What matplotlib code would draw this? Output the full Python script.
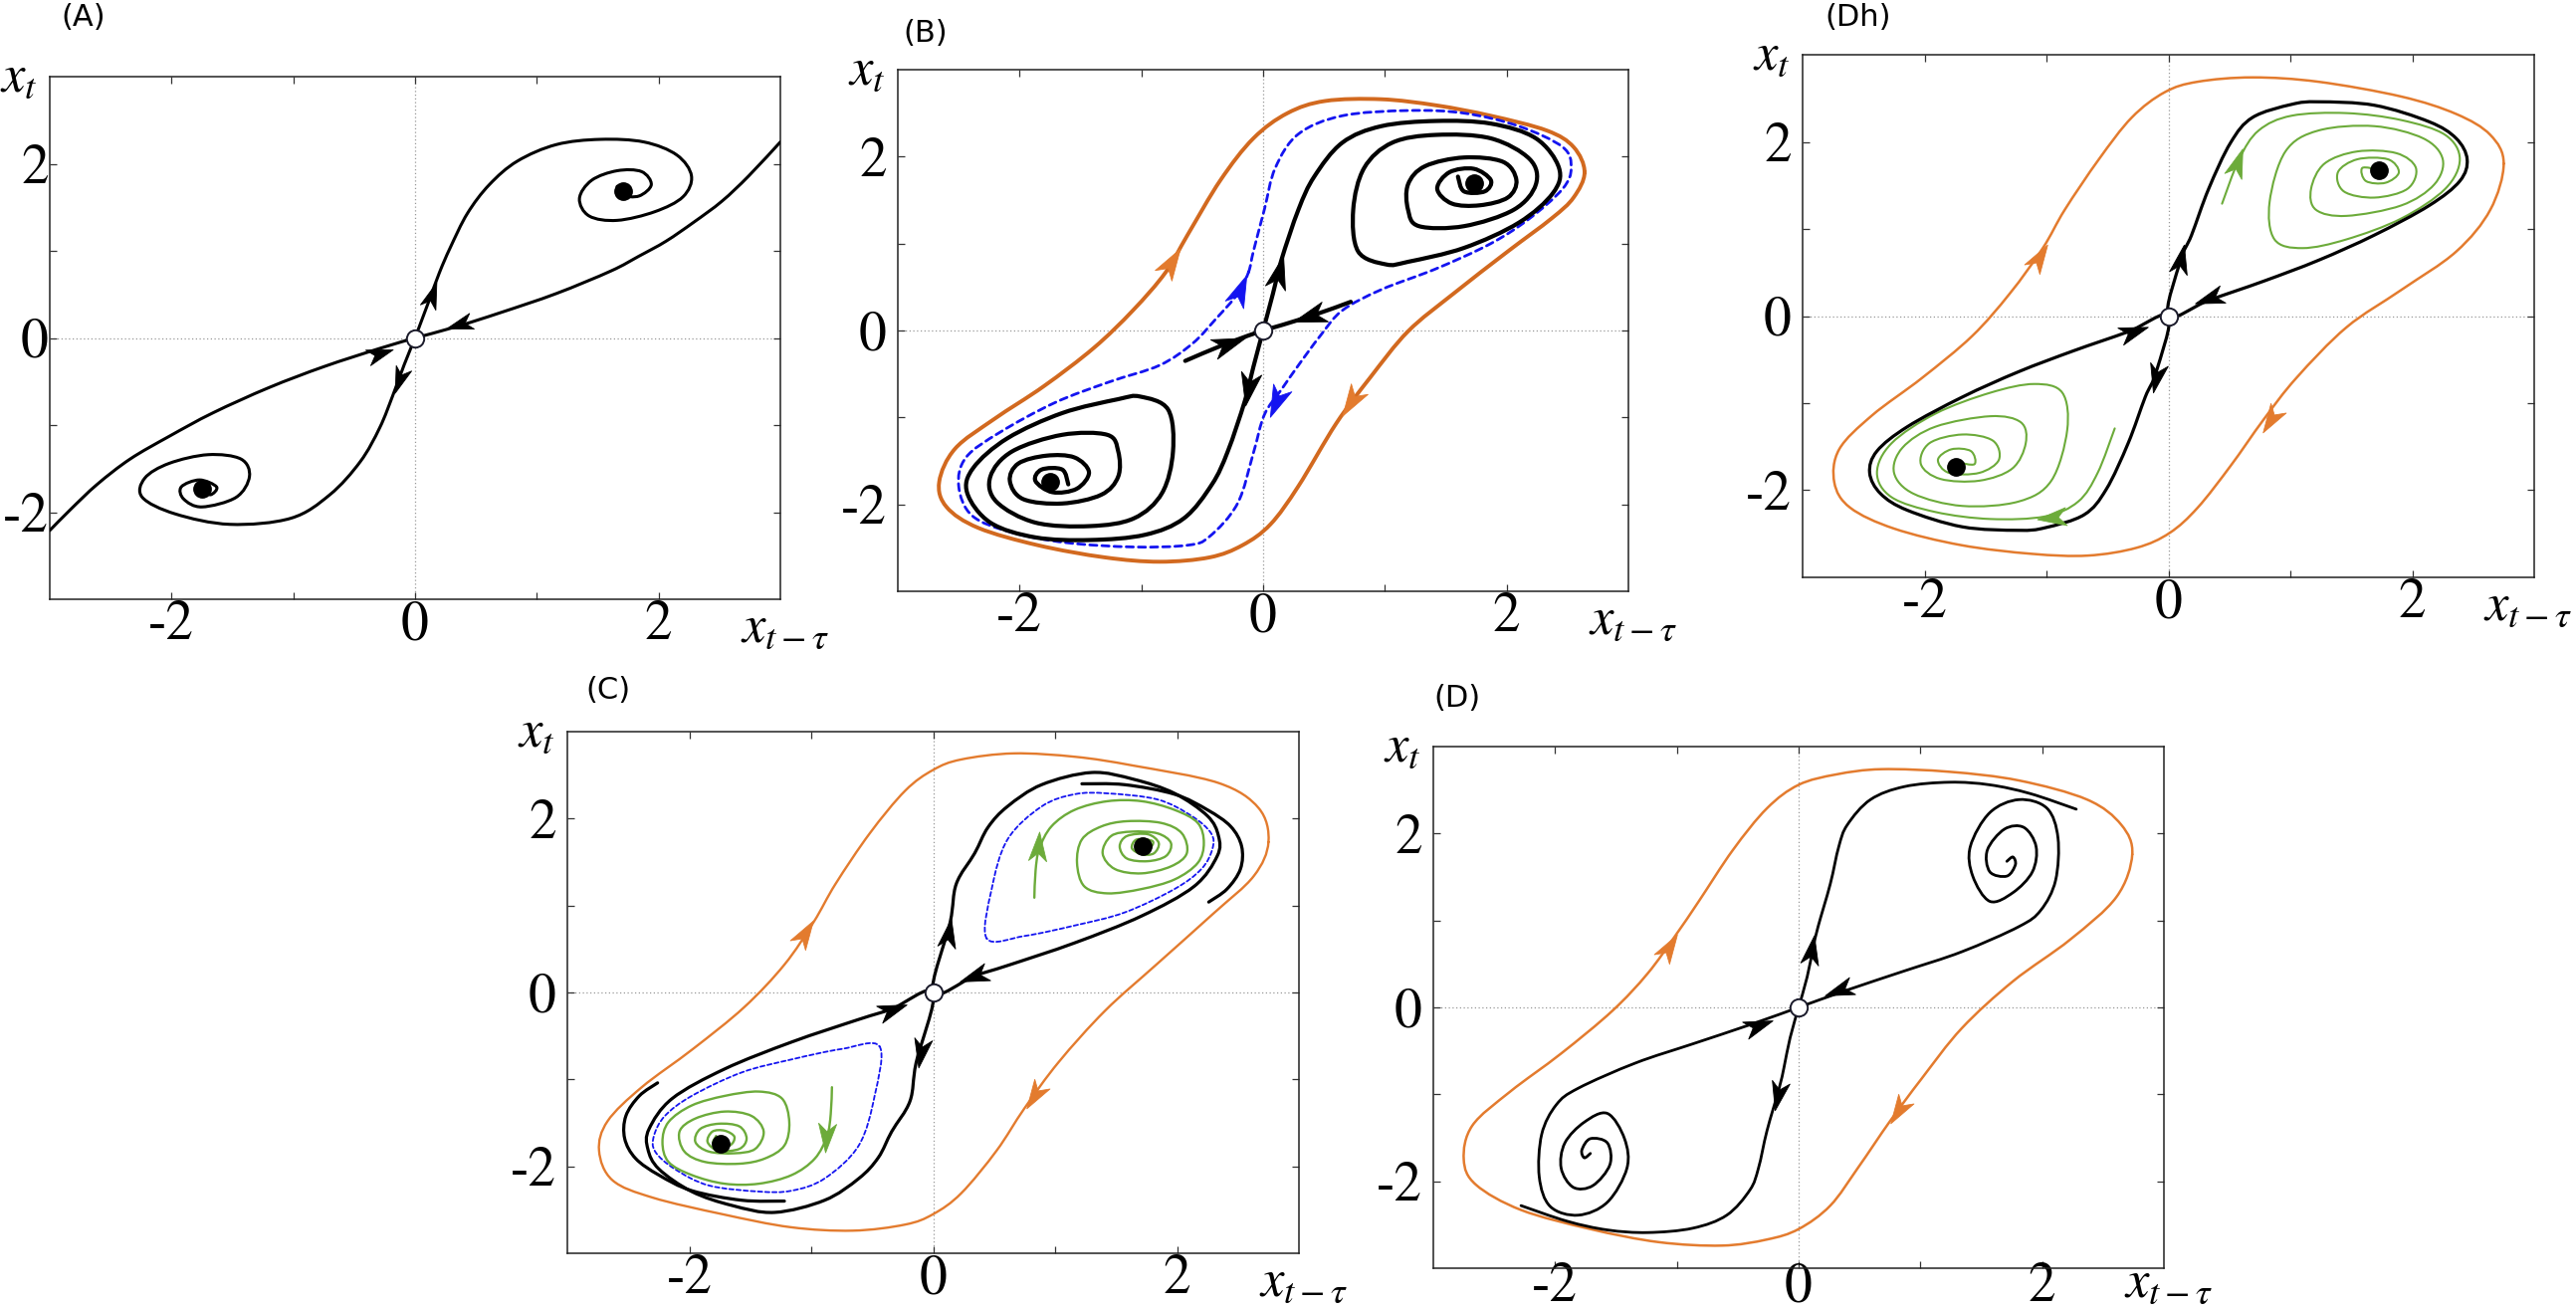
import numpy as np
import matplotlib
matplotlib.use('Agg')
import matplotlib.pyplot as plt
from matplotlib.path import Path
from matplotlib.patches import PathPatch
from matplotlib.markers import MarkerStyle
from matplotlib.transforms import Affine2D

plt.rcParams['mathtext.fontset'] = 'stix'
plt.rcParams['font.family'] = 'STIXGeneral'
plt.rcParams['axes.unicode_minus'] = False

# ---------------- data (x_{t-tau}, x_t) ----------------
tick_vals = [-2, -1, 0, 1, 2]
tick_labels = ['-2', '', '0', '', '2']

# panel A
a_up_x = [0, 0.11, 0.20, 0.29, 0.43, 0.61, 0.84, 1.16, 1.52, 1.88, 2.15, 2.27, 2.20, 1.97, 1.66, 1.43, 1.35, 1.45, 1.66, 1.86, 1.94, 1.84, 1.70, 1.66, 1.71]
a_up_y = [0, 0.41, 0.75, 1.04, 1.43, 1.76, 2.03, 2.22, 2.28, 2.25, 2.10, 1.86, 1.62, 1.45, 1.35, 1.40, 1.60, 1.81, 1.92, 1.91, 1.76, 1.63, 1.64, 1.74, 1.69]
a_dn_x = [0, -0.09, -0.18, -0.29, -0.45, -0.70, -1.02, -1.52, -1.97, -2.24, -2.22, -2.02, -1.70, -1.43, -1.36, -1.47, -1.75, -1.90, -1.92, -1.77, -1.63, -1.68, -1.75]
a_dn_y = [0, -0.31, -0.65, -1.03, -1.42, -1.80, -2.07, -2.14, -2.02, -1.83, -1.61, -1.44, -1.34, -1.39, -1.59, -1.83, -1.94, -1.85, -1.71, -1.63, -1.71, -1.80, -1.73]
a_sr_x = [3.0, 2.74, 2.52, 2.29, 2.06, 1.84, 1.61, 1.16, 0.70, 0.34, 0]
a_sr_y = [2.25, 1.86, 1.57, 1.33, 1.11, 0.94, 0.77, 0.51, 0.29, 0.13, 0]
a_sl_x = [-3.0, -2.83, -2.61, -2.34, -2.02, -1.66, -1.20, -0.75, -0.29, 0]
a_sl_y = [-2.21, -1.97, -1.68, -1.39, -1.13, -0.86, -0.57, -0.33, -0.12, 0]
a_foci_x = [1.71, -1.75]
a_foci_y = [1.69, -1.73]
a_arr_x = [0.14, -0.13, 0.36, -0.29]
a_arr_y = [0.50, -0.48, 0.16, -0.18]
a_arr_dx = [0.25, -0.25, -1, 1]
a_arr_dy = [1, -1, -0.42, 0.45]

# panel B
b_or_x = [2.64, 2.55, 2.33, 1.87, 1.42, 0.97, 0.51, 0.20, -0.08, -0.35, -0.62, -0.80, -1.07, -1.39, -1.80, -2.21, -2.53, -2.66, -2.60, -2.34, -1.85, -1.30, -0.85, -0.44, -0.17, 0.06, 0.29, 0.60, 0.88, 1.19, 1.56, 2.01, 2.37, 2.55, 2.64]
b_or_y = [1.82, 2.11, 2.30, 2.47, 2.59, 2.66, 2.64, 2.50, 2.21, 1.73, 1.10, 0.67, 0.23, -0.20, -0.64, -1.02, -1.36, -1.74, -2.03, -2.27, -2.47, -2.61, -2.66, -2.61, -2.47, -2.23, -1.79, -1.07, -0.54, -0.01, 0.42, 0.91, 1.29, 1.53, 1.82]
b_bl_x = [-0.12, -0.08, 0.01, 0.10, 0.29, 0.65, 1.19, 1.65, 2.10, 2.46, 2.53, 2.46, 2.19, 1.87, 1.42, 0.97, 0.65, 0.47, 0.29, 0.15, 0.01, -0.08, -0.21, -0.44, -0.62, -1.07, -1.62, -2.07, -2.39, -2.50, -2.44, -2.16, -1.71, -1.26, -0.85, -0.58, -0.39, -0.21, -0.12]
b_bl_y = [0.67, 0.91, 1.39, 1.87, 2.26, 2.47, 2.53, 2.50, 2.35, 2.11, 1.87, 1.63, 1.29, 1.00, 0.71, 0.47, 0.23, -0.06, -0.40, -0.68, -0.97, -1.41, -1.99, -2.37, -2.47, -2.49, -2.44, -2.32, -2.13, -1.79, -1.46, -1.17, -0.83, -0.59, -0.40, -0.15, 0.13, 0.42, 0.67]
b_up_x = [0, 0.08, 0.15, 0.29, 0.42, 0.65, 0.97, 1.42, 1.87, 2.24, 2.43, 2.38, 2.10, 1.65, 1.19, 1.01, 0.78, 0.74, 0.83, 1.06, 1.42, 1.87, 2.19, 2.24, 2.06, 1.65, 1.28, 1.19, 1.19, 1.33, 1.65, 1.97, 2.08, 2.01, 1.78, 1.55, 1.43, 1.53, 1.73, 1.87, 1.82, 1.65, 1.60]
b_up_y = [0, 0.42, 0.81, 1.39, 1.77, 2.16, 2.35, 2.41, 2.38, 2.21, 1.87, 1.58, 1.24, 0.95, 0.79, 0.76, 0.91, 1.39, 1.87, 2.16, 2.25, 2.21, 1.97, 1.68, 1.39, 1.20, 1.20, 1.39, 1.68, 1.89, 1.99, 1.94, 1.73, 1.53, 1.44, 1.46, 1.63, 1.82, 1.86, 1.73, 1.60, 1.60, 1.77]
b_dn_x = [0, -0.08, -0.15, -0.29, -0.42, -0.65, -0.97, -1.42, -1.87, -2.24, -2.43, -2.38, -2.10, -1.65, -1.19, -1.01, -0.78, -0.74, -0.83, -1.06, -1.42, -1.87, -2.19, -2.24, -2.06, -1.65, -1.28, -1.19, -1.19, -1.33, -1.65, -1.97, -2.08, -2.01, -1.78, -1.55, -1.43, -1.53, -1.73, -1.87, -1.82, -1.65, -1.60]
b_dn_y = [0, -0.42, -0.81, -1.39, -1.77, -2.16, -2.35, -2.41, -2.38, -2.21, -1.87, -1.58, -1.24, -0.95, -0.79, -0.76, -0.91, -1.39, -1.87, -2.16, -2.25, -2.21, -1.97, -1.68, -1.39, -1.20, -1.20, -1.39, -1.68, -1.89, -1.99, -1.94, -1.73, -1.53, -1.44, -1.46, -1.63, -1.82, -1.86, -1.73, -1.60, -1.60, -1.77]
b_sr_x = [0.72, 0.38, 0]
b_sr_y = [0.33, 0.16, 0]
b_sl_x = [-0.64, -0.30, 0]
b_sl_y = [-0.35, -0.15, 0]
b_foci_x = [1.73, -1.75]
b_foci_y = [1.69, -1.74]
b_arr_k_x = [0.13, -0.12, 0.38, -0.28]
b_arr_k_y = [0.67, -0.68, 0.16, -0.15]
b_arr_k_dx = [0.18, -0.13, -1, 1]
b_arr_k_dy = [1, -1, -0.45, 0.5]
b_arr_b_x = [-0.19, 0.11]
b_arr_b_y = [0.47, -0.83]
b_arr_b_dx = [0.3, -0.3]
b_arr_b_dy = [1, -1]
b_arr_o_x = [-0.75, 0.72]
b_arr_o_y = [0.79, -0.83]
b_arr_o_dx = [0.45, -0.45]
b_arr_o_dy = [1, -1]

# panel Dh
dh_or_x = [2.75, 2.64, 2.36, 1.91, 1.23, 0.69, 0.24, -0.03, -0.30, -0.57, -0.85, -1.03, -1.30, -1.61, -2.02, -2.43, -2.70, -2.74, -2.61, -2.25, -1.70, -1.12, -0.66, -0.26, 0.01, 0.24, 0.51, 0.78, 1.05, 1.46, 1.91, 2.36, 2.64, 2.75]
dh_or_y = [1.75, 2.08, 2.32, 2.52, 2.69, 2.74, 2.69, 2.57, 2.28, 1.80, 1.22, 0.78, 0.26, -0.23, -0.71, -1.14, -1.53, -1.91, -2.20, -2.44, -2.63, -2.73, -2.75, -2.66, -2.49, -2.20, -1.72, -1.19, -0.71, -0.13, 0.30, 0.74, 1.22, 1.75]
dh_up_x = [0, 0.10, 0.19, 0.33, 0.51, 0.69, 1.01, 1.23, 1.69, 2.14, 2.36, 2.45, 2.39, 2.14, 1.69, 1.23, 0.78, 0.33, 0]
dh_up_y = [0, 0.64, 0.93, 1.46, 1.99, 2.28, 2.43, 2.46, 2.42, 2.23, 2.04, 1.80, 1.55, 1.27, 0.93, 0.64, 0.40, 0.18, 0]
dh_dn_x = [0, -0.10, -0.19, -0.33, -0.51, -0.69, -1.01, -1.23, -1.69, -2.14, -2.36, -2.45, -2.39, -2.14, -1.69, -1.23, -0.78, -0.33, 0]
dh_dn_y = [0, -0.64, -0.93, -1.46, -1.99, -2.28, -2.43, -2.46, -2.42, -2.23, -2.04, -1.80, -1.55, -1.27, -0.93, -0.64, -0.40, -0.18, 0]
dh_gu_x = [0.44, 0.58, 0.74, 1.01, 1.46, 1.91, 2.27, 2.39, 2.27, 1.91, 1.46, 1.10, 0.87, 0.83, 0.96, 1.23, 1.69, 2.09, 2.25, 2.18, 1.91, 1.46, 1.21, 1.17, 1.28, 1.55, 1.87, 2.03, 1.96, 1.69, 1.44, 1.39, 1.55, 1.80, 1.89, 1.78, 1.62, 1.59, 1.73]
dh_gu_y = [1.29, 1.80, 2.13, 2.30, 2.33, 2.25, 2.08, 1.80, 1.46, 1.12, 0.88, 0.78, 0.88, 1.31, 1.89, 2.13, 2.18, 2.04, 1.80, 1.51, 1.27, 1.15, 1.22, 1.46, 1.75, 1.89, 1.87, 1.70, 1.46, 1.36, 1.43, 1.65, 1.80, 1.80, 1.65, 1.53, 1.55, 1.70, 1.68]
dh_gd_x = [-0.44, -0.58, -0.74, -1.01, -1.46, -1.91, -2.27, -2.39, -2.27, -1.91, -1.46, -1.10, -0.87, -0.83, -0.96, -1.23, -1.69, -2.09, -2.25, -2.18, -1.91, -1.46, -1.21, -1.17, -1.28, -1.55, -1.87, -2.03, -1.96, -1.69, -1.44, -1.39, -1.55, -1.80, -1.89, -1.78, -1.62, -1.59, -1.73]
dh_gd_y = [-1.29, -1.80, -2.13, -2.30, -2.33, -2.25, -2.08, -1.80, -1.46, -1.12, -0.88, -0.78, -0.88, -1.31, -1.89, -2.13, -2.18, -2.04, -1.80, -1.51, -1.27, -1.15, -1.22, -1.46, -1.75, -1.89, -1.87, -1.70, -1.46, -1.36, -1.43, -1.65, -1.80, -1.80, -1.65, -1.53, -1.55, -1.70, -1.68]
dh_foci_x = [1.73, -1.74]
dh_foci_y = [1.68, -1.73]
dh_arr_k_x = [0.10, -0.10, 0.33, -0.28]
dh_arr_k_y = [0.66, -0.71, 0.20, -0.18]
dh_arr_k_dx = [0.15, -0.15, -1, 1]
dh_arr_k_dy = [1, -1, -0.47, 0.47]
dh_arr_g_x = [0.57, -0.96]
dh_arr_g_y = [1.77, -2.32]
dh_arr_g_dx = [0.25, -1]
dh_arr_g_dy = [1, -0.15]
dh_arr_o_x = [-1.06, 0.84]
dh_arr_o_y = [0.68, -1.19]
dh_arr_o_dx = [0.45, -0.45]
dh_arr_o_dy = [1, -1]

# panel C
c_or_x = [2.75, 2.67, 2.34, 1.64, 1.17, 0.66, 0.23, 0, -0.23, -0.52, -0.80, -0.98, -1.22, -1.55, -1.97, -2.39, -2.67, -2.74, -2.63, -2.30, -1.73, -1.17, -0.66, -0.23, 0, 0.23, 0.52, 0.75, 1.03, 1.41, 1.83, 2.30, 2.63, 2.75]
c_or_y = [1.73, 2.12, 2.41, 2.61, 2.71, 2.75, 2.68, 2.56, 2.32, 1.83, 1.25, 0.81, 0.32, -0.17, -0.65, -1.09, -1.48, -1.82, -2.16, -2.36, -2.55, -2.70, -2.74, -2.67, -2.55, -2.31, -1.82, -1.33, -0.80, -0.21, 0.32, 0.91, 1.34, 1.73]
c_up_x = [0, 0.14, 0.19, 0.34, 0.45, 0.61, 0.89, 1.30, 1.65, 1.98, 2.25, 2.34, 2.33, 2.14, 1.71, 1.16, 0.61, 0.34, 0]
c_up_y = [0, 0.81, 1.25, 1.60, 1.90, 2.14, 2.39, 2.53, 2.45, 2.29, 2.03, 1.80, 1.57, 1.22, 0.88, 0.57, 0.31, 0.19, 0]
c_dn_x = [0, -0.14, -0.19, -0.34, -0.45, -0.61, -0.89, -1.30, -1.65, -1.98, -2.25, -2.34, -2.33, -2.14, -1.71, -1.16, -0.61, -0.34, 0]
c_dn_y = [0, -0.81, -1.25, -1.60, -1.90, -2.14, -2.39, -2.53, -2.45, -2.29, -2.03, -1.80, -1.57, -1.22, -0.88, -0.57, -0.31, -0.19, 0]
c_au_x = [1.22, 1.57, 1.98, 2.25, 2.44, 2.53, 2.52, 2.41, 2.26]
c_au_y = [2.40, 2.39, 2.28, 2.10, 1.91, 1.68, 1.42, 1.19, 1.04]
c_ad_x = [-1.22, -1.57, -1.98, -2.25, -2.44, -2.53, -2.52, -2.41, -2.26]
c_ad_y = [-2.40, -2.39, -2.28, -2.10, -1.91, -1.68, -1.42, -1.19, -1.04]
c_bu_x = [0.44, 0.48, 0.61, 0.89, 1.16, 1.43, 1.84, 2.12, 2.28, 2.29, 2.20, 1.98, 1.57, 1.16, 0.75, 0.44]
c_bu_y = [0.62, 1.19, 1.76, 2.14, 2.28, 2.29, 2.22, 2.03, 1.83, 1.65, 1.42, 1.19, 0.92, 0.77, 0.65, 0.62]
c_bd_x = [-0.44, -0.48, -0.61, -0.89, -1.16, -1.43, -1.84, -2.12, -2.28, -2.29, -2.20, -1.98, -1.57, -1.16, -0.75, -0.44]
c_bd_y = [-0.62, -1.19, -1.76, -2.14, -2.28, -2.29, -2.22, -2.03, -1.83, -1.65, -1.42, -1.19, -0.92, -0.77, -0.65, -0.62]
c_gu_x = [0.83, 0.84, 0.87, 0.97, 1.16, 1.43, 1.71, 1.98, 2.17, 2.22, 2.17, 1.98, 1.71, 1.43, 1.24, 1.18, 1.22, 1.38, 1.59, 1.87, 2.04, 2.08, 1.95, 1.71, 1.49, 1.39, 1.46, 1.63, 1.84, 1.95, 1.91, 1.76, 1.59, 1.53, 1.59, 1.76, 1.85, 1.81, 1.71, 1.63, 1.67, 1.80, 1.78]
c_gu_y = [1.09, 1.40, 1.65, 1.91, 2.10, 2.20, 2.20, 2.10, 1.95, 1.72, 1.49, 1.30, 1.19, 1.14, 1.22, 1.49, 1.76, 1.91, 1.97, 1.95, 1.83, 1.60, 1.45, 1.37, 1.42, 1.60, 1.80, 1.85, 1.83, 1.72, 1.57, 1.51, 1.54, 1.68, 1.80, 1.82, 1.72, 1.60, 1.59, 1.66, 1.76, 1.74, 1.65]
c_gd_x = [-0.83, -0.84, -0.87, -0.97, -1.16, -1.43, -1.71, -1.98, -2.17, -2.22, -2.17, -1.98, -1.71, -1.43, -1.24, -1.18, -1.22, -1.38, -1.59, -1.87, -2.04, -2.08, -1.95, -1.71, -1.49, -1.39, -1.46, -1.63, -1.84, -1.95, -1.91, -1.76, -1.59, -1.53, -1.59, -1.76, -1.85, -1.81, -1.71, -1.63, -1.67, -1.80, -1.78]
c_gd_y = [-1.09, -1.40, -1.65, -1.91, -2.10, -2.20, -2.20, -2.10, -1.95, -1.72, -1.49, -1.30, -1.19, -1.14, -1.22, -1.49, -1.76, -1.91, -1.97, -1.95, -1.83, -1.60, -1.45, -1.37, -1.42, -1.60, -1.80, -1.85, -1.83, -1.72, -1.57, -1.51, -1.54, -1.68, -1.80, -1.82, -1.72, -1.60, -1.59, -1.66, -1.76, -1.74, -1.65]
c_foci_x = [1.72, -1.74]
c_foci_y = [1.68, -1.74]
c_arr_k_x = [0.13, -0.10, 0.33, -0.33]
c_arr_k_y = [0.69, -0.70, 0.18, -0.20]
c_arr_k_dx = [0.12, -0.12, -1, 1]
c_arr_k_dy = [1, -1, -0.5, 0.5]
c_arr_g_x = [0.86, -0.88]
c_arr_g_y = [1.68, -1.67]
c_arr_g_dx = [0.05, -0.05]
c_arr_g_dy = [1, -1]
c_arr_o_x = [-1.05, 0.83]
c_arr_o_y = [0.69, -1.19]
c_arr_o_dx = [0.45, -0.45]
c_arr_o_dy = [1, -1]

# panel D
d_or_x = [2.74, 2.65, 2.37, 1.81, 1.24, 0.68, 0.31, 0, -0.26, -0.54, -0.82, -1.01, -1.24, -1.53, -1.95, -2.37, -2.68, -2.75, -2.65, -2.28, -1.71, -1.15, -0.63, -0.26, 0, 0.26, 0.49, 0.75, 1.01, 1.34, 1.76, 2.23, 2.61, 2.74]
d_or_y = [1.76, 2.10, 2.39, 2.61, 2.71, 2.74, 2.68, 2.56, 2.29, 1.81, 1.22, 0.83, 0.39, -0.04, -0.53, -0.97, -1.36, -1.75, -2.04, -2.33, -2.55, -2.70, -2.74, -2.67, -2.55, -2.28, -1.84, -1.31, -0.82, -0.24, 0.30, 0.78, 1.27, 1.76]
d_uu_x = [0, 0.07, 0.12, 0.16, 0.26, 0.33, 0.40, 0.59, 0.87, 1.24, 1.57, 1.90, 2.28]
d_uu_y = [0, 0.35, 0.69, 0.93, 1.42, 1.85, 2.10, 2.39, 2.54, 2.59, 2.56, 2.46, 2.28]
d_ud_x = [0, -0.07, -0.12, -0.16, -0.26, -0.33, -0.40, -0.59, -0.87, -1.24, -1.57, -1.90, -2.28]
d_ud_y = [0, -0.35, -0.69, -0.93, -1.42, -1.85, -2.10, -2.39, -2.54, -2.59, -2.56, -2.46, -2.28]
d_su_x = [1.71, 1.76, 1.78, 1.71, 1.57, 1.55, 1.69, 1.85, 1.95, 1.92, 1.76, 1.57, 1.43, 1.41, 1.57, 1.81, 2.04, 2.13, 2.11, 1.99, 1.81, 1.34, 0.87, 0.40, 0]
d_su_y = [1.68, 1.73, 1.64, 1.51, 1.56, 1.81, 2.05, 2.07, 1.85, 1.56, 1.32, 1.22, 1.51, 1.85, 2.24, 2.39, 2.29, 1.95, 1.46, 1.12, 0.93, 0.64, 0.42, 0.20, 0]
d_sd_x = [-1.71, -1.76, -1.78, -1.71, -1.57, -1.55, -1.69, -1.85, -1.95, -1.92, -1.76, -1.57, -1.43, -1.41, -1.57, -1.81, -2.04, -2.13, -2.11, -1.99, -1.81, -1.34, -0.87, -0.40, 0]
d_sd_y = [-1.68, -1.73, -1.64, -1.51, -1.56, -1.81, -2.05, -2.07, -1.85, -1.56, -1.32, -1.22, -1.51, -1.85, -2.24, -2.39, -2.29, -1.95, -1.46, -1.12, -0.93, -0.64, -0.42, -0.20, 0]
d_arr_k_x = [0.11, -0.17, 0.33, -0.33]
d_arr_k_y = [0.66, -1.02, 0.20, -0.21]
d_arr_k_dx = [0.12, -0.15, -1, 1]
d_arr_k_dy = [1, -1, -0.5, 0.5]
d_arr_o_x = [-1.06, 0.82]
d_arr_o_y = [0.70, -1.19]
d_arr_o_dx = [0.45, -0.45]
d_arr_o_dy = [1, -1]

# ---------------- drawing ----------------
W, H = 2588, 1317
fig = plt.figure(figsize=(W / 100, H / 100), dpi=100)

ORANGE_B = '#d2691f'
ORANGE = '#e37b2e'
GREEN = '#6cab3a'
BLUE = '#1414f0'

stealth = Path([(1, 0), (-1, 0.62), (-0.45, 0), (-1, -0.62), (1, 0)],
               [Path.MOVETO, Path.LINETO, Path.LINETO, Path.LINETO, Path.CLOSEPOLY])


def make_ax(l, r, t, b, label, lab_x, lab_y, xlab=(1.006, -0.058, 'center', 'center'),
            xpad=1, ypad=8):
    ax = fig.add_axes([l / W, 1 - b / H, (r - l) / W, (b - t) / H])
    ax.set_xlim(-3, 3)
    ax.set_ylim(-3, 3)
    ax.set_xticks(tick_vals)
    ax.set_xticklabels(tick_labels)
    ax.set_yticks(tick_vals)
    ax.set_yticklabels(tick_labels)
    ax.tick_params(direction='in', length=5, width=0.9, top=True, right=True,
                   labelsize=40, color='#333333')
    ax.tick_params(axis='x', pad=xpad)
    ax.tick_params(axis='y', pad=ypad)
    for s in ax.spines.values():
        s.set_linewidth(1.1)
        s.set_color('#222222')
    ax.axhline(0, color='#999999', lw=0.9, ls=(0, (1, 2)), zorder=0)
    ax.axvline(0, color='#999999', lw=0.9, ls=(0, (1, 2)), zorder=0)
    ax.text(-0.042, 0.996, r'$x_t$', transform=ax.transAxes, ha='center',
            va='center', fontsize=38)
    ax.text(xlab[0], xlab[1], r'$x_{t-\tau}$', transform=ax.transAxes,
            ha=xlab[2], va=xlab[3], fontsize=38)
    fig.text(lab_x / W, 1 - lab_y / H, label, ha='left', va='center',
             fontsize=22, family='DejaVu Sans')
    return ax


def curve(ax, xs, ys, color='k', lw=2.2, ls='-'):
    # smooth drawing through the read points (Catmull-Rom as Bezier path)
    P = np.column_stack([xs, ys]).astype(float)
    closed = len(P) > 3 and np.allclose(P[0], P[-1])
    if closed:
        P = P[:-1]
        ext = np.vstack([P[-1], P, P[0], P[1]])
    else:
        ext = np.vstack([P[0], P, P[-1]])
    verts = [ext[1]]
    codes = [Path.MOVETO]
    for i in range(1, len(ext) - 2):
        p0, p1, p2, p3 = ext[i - 1], ext[i], ext[i + 1], ext[i + 2]
        verts += [p1 + (p2 - p0) / 6, p2 - (p3 - p1) / 6, p2]
        codes += [Path.CURVE4] * 3
    patch = PathPatch(Path(verts, codes), fill=False, edgecolor=color, lw=lw,
                      linestyle=ls, capstyle='round', joinstyle='round', zorder=3)
    ax.add_patch(patch)


def arrows(ax, xs, ys, dxs, dys, color, size):
    for x, y, dx, dy in zip(xs, ys, dxs, dys):
        p0 = ax.transData.transform((x, y))
        p1 = ax.transData.transform((x + 0.1 * dx, y + 0.1 * dy))
        ang = np.degrees(np.arctan2(p1[1] - p0[1], p1[0] - p0[0]))
        m = MarkerStyle(stealth, transform=Affine2D().rotate_deg(ang))
        ax.plot([x], [y], marker=m, ms=size, color=color, mec=color,
                mew=0.6, ls='none', zorder=8)


def points(ax, fx, fy):
    if fx:
        ax.plot(fx, fy, 'o', color='k', ms=12.5, zorder=9)
    ax.plot([0], [0], 'o', mfc='white', mec='#1a1a2a', mew=1.4, ms=12.5, zorder=10)


# (A)
ax = make_ax(50, 784, 77, 602, '(A)', 61, 18, ypad=1)
curve(ax, a_up_x, a_up_y)
curve(ax, a_dn_x, a_dn_y)
curve(ax, a_sr_x, a_sr_y)
curve(ax, a_sl_x, a_sl_y)
arrows(ax, a_arr_x, a_arr_y, a_arr_dx, a_arr_dy, 'k', 19)
points(ax, a_foci_x, a_foci_y)

# (B)
ax = make_ax(902, 1636, 70, 594, '(B)', 907, 34)
curve(ax, b_or_x, b_or_y, ORANGE_B, 2.8)
curve(ax, b_bl_x, b_bl_y, BLUE, 2.0, (0, (2.6, 1.8)))
curve(ax, b_up_x, b_up_y, 'k', 3.0)
curve(ax, b_dn_x, b_dn_y, 'k', 3.0)
curve(ax, b_sr_x, b_sr_y, 'k', 3.0)
curve(ax, b_sl_x, b_sl_y, 'k', 3.0)
arrows(ax, b_arr_k_x, b_arr_k_y, b_arr_k_dx, b_arr_k_dy, 'k', 24)
arrows(ax, b_arr_b_x, b_arr_b_y, b_arr_b_dx, b_arr_b_dy, BLUE, 23)
arrows(ax, b_arr_o_x, b_arr_o_y, b_arr_o_dx, b_arr_o_dy, ORANGE, 23)
points(ax, b_foci_x, b_foci_y)

# (Dh)
ax = make_ax(1811, 2546, 55, 580, '(Dh)', 1833, 18,
             xlab=((2584 - 1811) / 735, -0.058, 'right', 'center'))
curve(ax, dh_or_x, dh_or_y, ORANGE, 1.8)
curve(ax, dh_gu_x, dh_gu_y, GREEN, 1.5)
curve(ax, dh_gd_x, dh_gd_y, GREEN, 1.5)
curve(ax, dh_up_x, dh_up_y, 'k', 2.3)
curve(ax, dh_dn_x, dh_dn_y, 'k', 2.3)
arrows(ax, dh_arr_k_x, dh_arr_k_y, dh_arr_k_dx, dh_arr_k_dy, 'k', 21)
arrows(ax, dh_arr_g_x, dh_arr_g_y, dh_arr_g_dx, dh_arr_g_dy, GREEN, 21)
arrows(ax, dh_arr_o_x, dh_arr_o_y, dh_arr_o_dx, dh_arr_o_dy, ORANGE, 21)
points(ax, dh_foci_x, dh_foci_y)

# (C)
ax = make_ax(570, 1305, 735, 1259, '(C)', 588, 693)
curve(ax, c_or_x, c_or_y, ORANGE, 1.7)
curve(ax, c_bu_x, c_bu_y, BLUE, 1.3, (0, (2.4, 1.6)))
curve(ax, c_bd_x, c_bd_y, BLUE, 1.3, (0, (2.4, 1.6)))
curve(ax, c_gu_x, c_gu_y, GREEN, 1.7)
curve(ax, c_gd_x, c_gd_y, GREEN, 1.7)
curve(ax, c_up_x, c_up_y, 'k', 2.3)
curve(ax, c_dn_x, c_dn_y, 'k', 2.3)
curve(ax, c_au_x, c_au_y, 'k', 2.3)
curve(ax, c_ad_x, c_ad_y, 'k', 2.3)
arrows(ax, c_arr_k_x, c_arr_k_y, c_arr_k_dx, c_arr_k_dy, 'k', 21)
arrows(ax, c_arr_g_x, c_arr_g_y, c_arr_g_dx, c_arr_g_dy, GREEN, 21)
arrows(ax, c_arr_o_x, c_arr_o_y, c_arr_o_dx, c_arr_o_dy, ORANGE, 21)
points(ax, c_foci_x, c_foci_y)

# (D)
ax = make_ax(1440, 2174, 750, 1274, '(D)', 1440, 701,
             xlab=(1.006, -(1315 - 1274) / 525, 'center', 'bottom'), xpad=-4)
curve(ax, d_or_x, d_or_y, ORANGE, 1.8)
curve(ax, d_uu_x, d_uu_y, 'k', 2.0)
curve(ax, d_ud_x, d_ud_y, 'k', 2.0)
curve(ax, d_su_x, d_su_y, 'k', 2.0)
curve(ax, d_sd_x, d_sd_y, 'k', 2.0)
arrows(ax, d_arr_k_x, d_arr_k_y, d_arr_k_dx, d_arr_k_dy, 'k', 21)
arrows(ax, d_arr_o_x, d_arr_o_y, d_arr_o_dx, d_arr_o_dy, ORANGE, 21)
points(ax, [], [])

fig.savefig('out.png', dpi=100)
